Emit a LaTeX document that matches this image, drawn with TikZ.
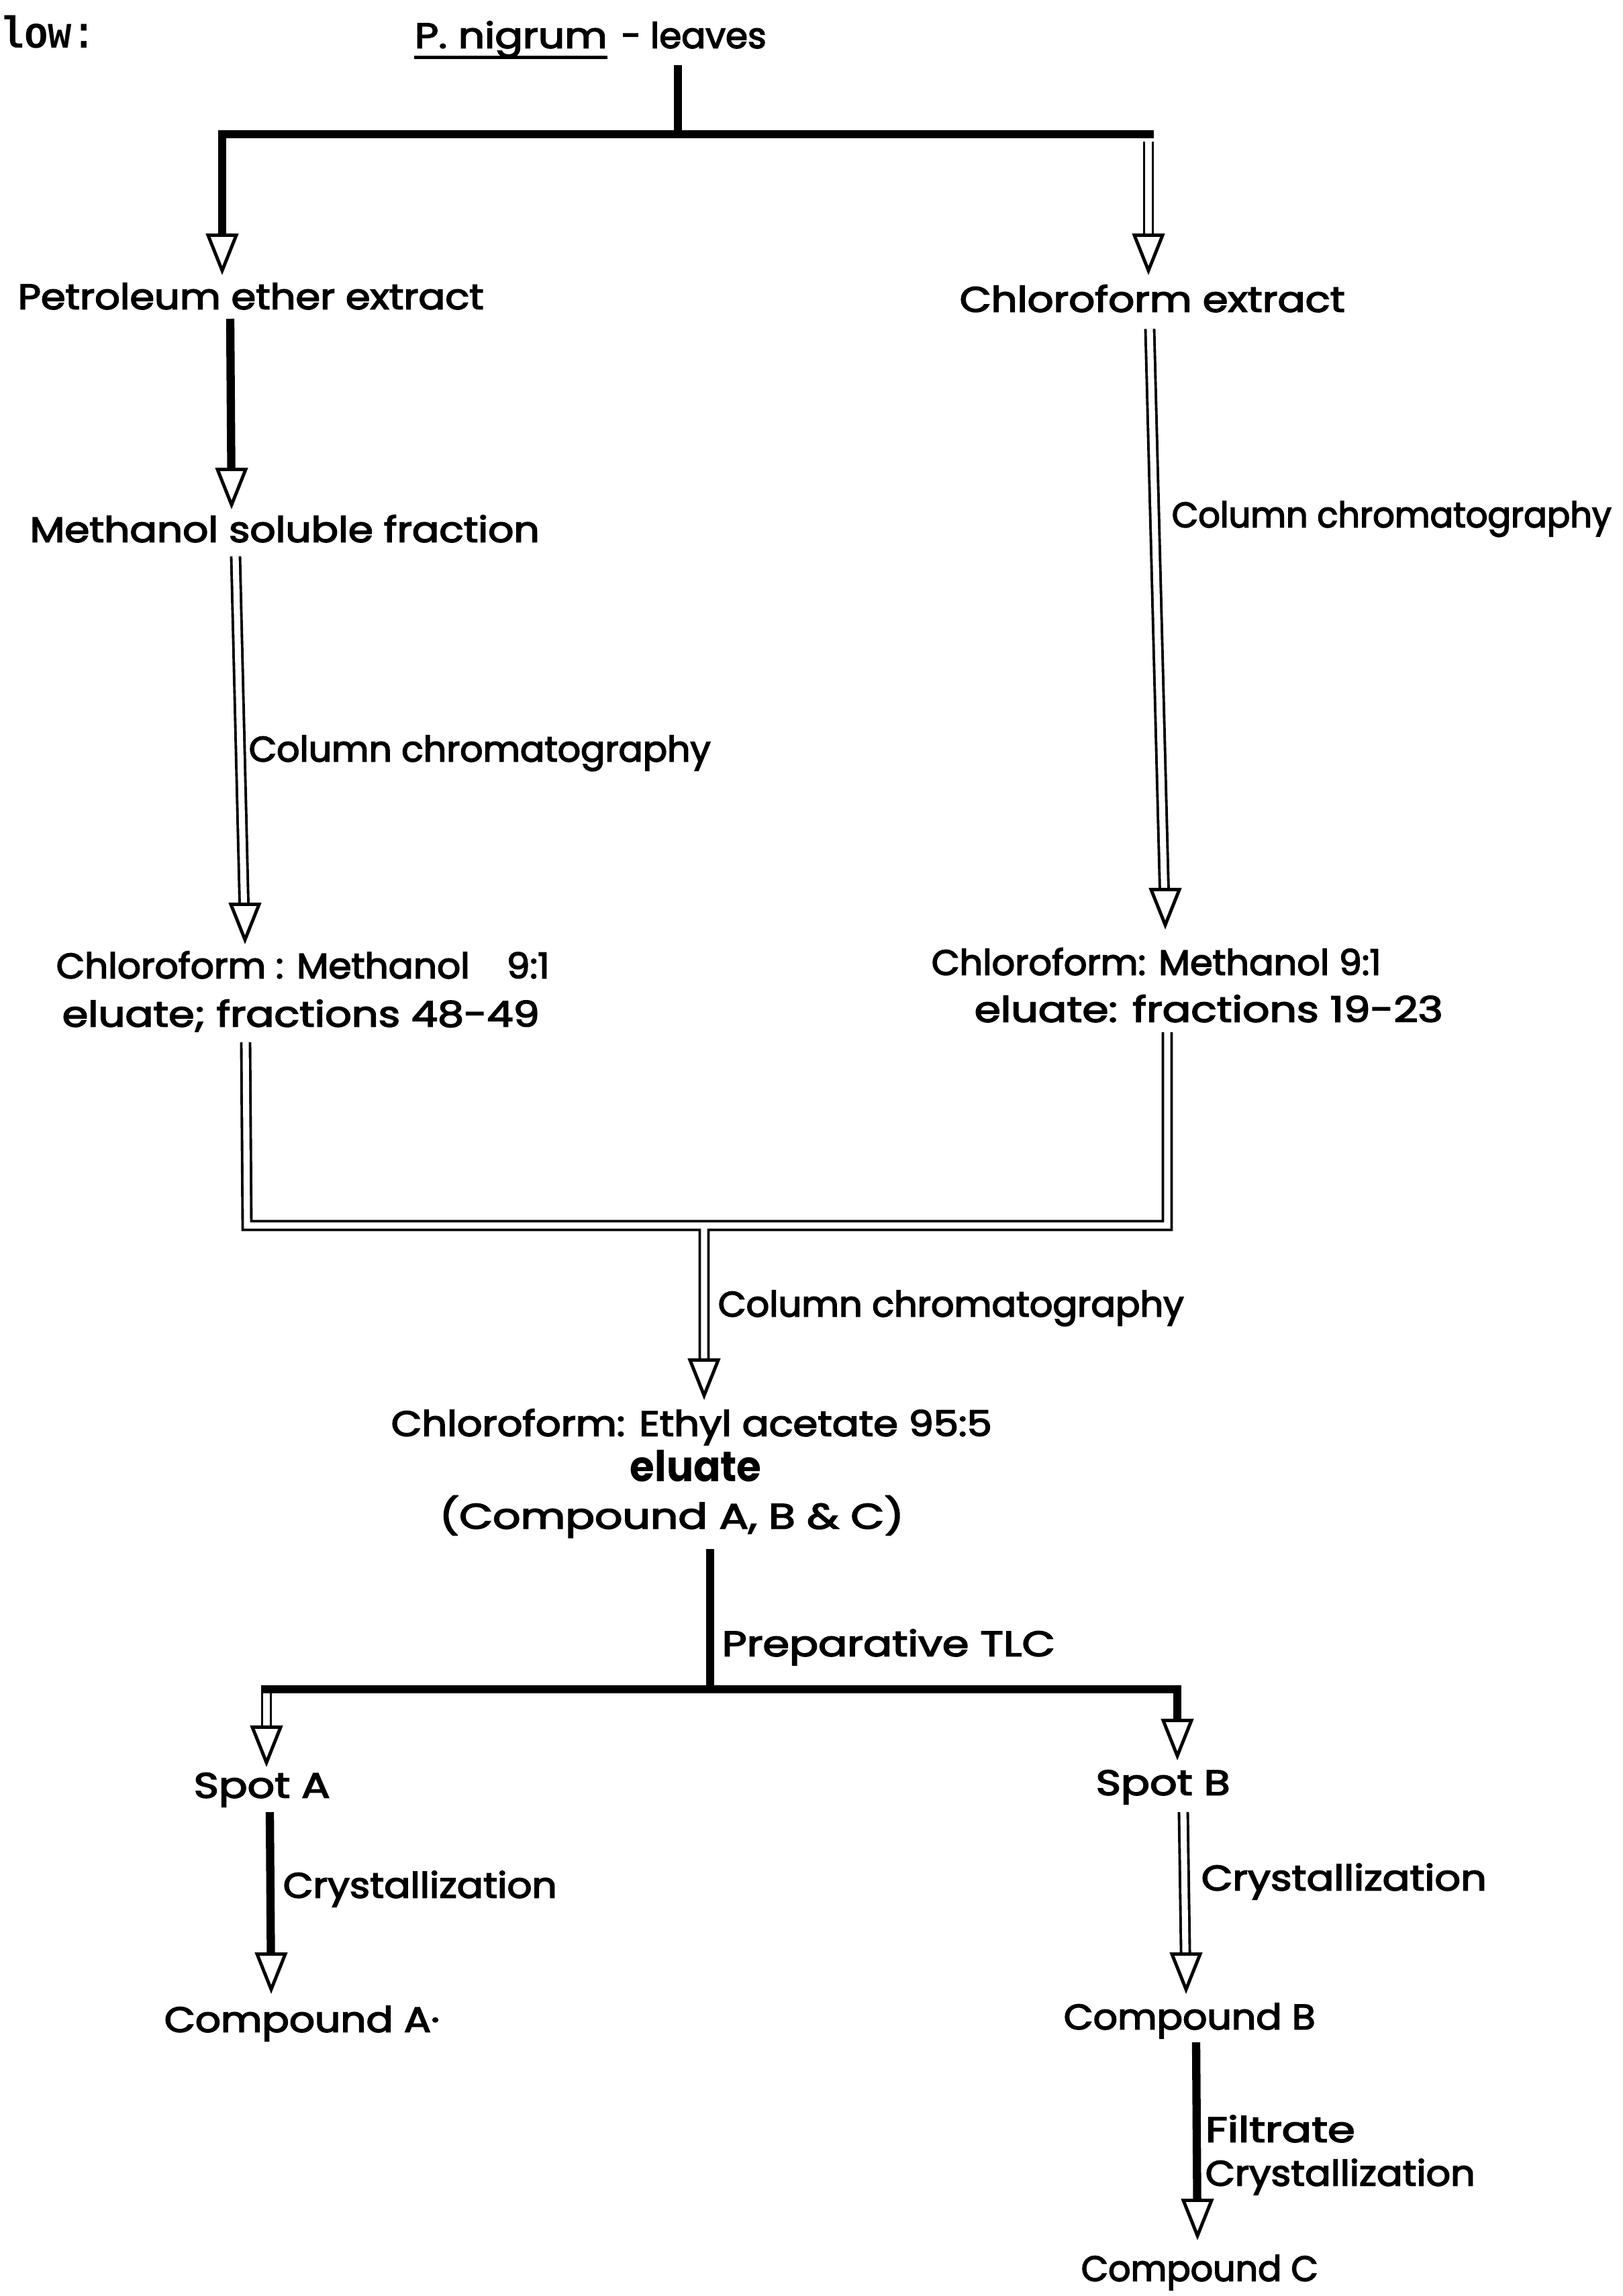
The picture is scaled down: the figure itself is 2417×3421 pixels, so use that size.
\documentclass[tikz,border=0pt]{standalone}
\usepackage{fontspec}
\usepackage{graphicx}
\setmainfont{Poppins}
\newfontfamily\lblfont{Poppins}[FakeBold=3]
\newfontfamily\typefont{Liberation Mono}
\usetikzlibrary{arrows.meta}

% set a label to a given width (in units of 0.01cm), keeping its height
\newcommand\fitto[2]{\resizebox{\dimexpr 0.01cm*#1\relax}{\height}{#2}}
% open arrow head ending at a coordinate
\newcommand\headon[1]{\draw[tiphead] ([yshift=0.62cm]#1) -- (#1);}

\begin{document}
\begin{tikzpicture}[x=0.01cm, y=-0.01cm,
  lbl/.style={anchor=mid west, inner sep=0pt, font=\lblfont\fontsize{15}{18}\selectfont},
  heavy/.style={line width=3.5pt},
  twin/.style={double, line width=1.1pt, double distance=2.6pt},
  totip/.style={shorten >=0.58cm},
  tiphead/.style={-{Triangle[fill=white, length=0.62cm, width=0.48cm, line width=1.4pt]}, line width=1.4pt}]

\useasboundingbox[fill=white] (0,0) rectangle (2417,3421);

% ---------- junctions and arrow tips ----------
\coordinate (jTopS) at (1010,97);
\coordinate (jTop)  at (1010,200);
\coordinate (kL) at (331,200);
\coordinate (kR) at (1711,200);
\coordinate (kRo) at (1719,200);
\coordinate (tPet) at (331,410);
\coordinate (tChx) at (1711,410);

\coordinate (sMsf) at (343,475);
\coordinate (tMsf) at (345,759);
\coordinate (sCml) at (351,829);
\coordinate (tCml) at (365,1407);
\coordinate (sCmr) at (1713,490);
\coordinate (tCmr) at (1736,1385);

\coordinate (mL0) at (366,1553);
\coordinate (mL1) at (368,1826);
\coordinate (mR1) at (1739,1826);
\coordinate (mR0) at (1739,1538);
\coordinate (mC)  at (1049,1826);
\coordinate (tCea) at (1049,2086);

\coordinate (sTlc) at (1058,2308);
\coordinate (jTlc) at (1058,2517);
\coordinate (bL)  at (389,2517);
\coordinate (bR)  at (1760,2517);
\coordinate (dL)  at (397,2511);
\coordinate (tSpa) at (397,2633);
\coordinate (dR)  at (1754,2517);
\coordinate (tSpb) at (1754,2623);

\coordinate (sCpa) at (402,2700);
\coordinate (tCpa) at (404,2971);
\coordinate (sCpb) at (1763,2700);
\coordinate (tCpb) at (1767,2971);
\coordinate (sCpc) at (1782,3043);
\coordinate (tCpc) at (1784,3338);

% ---------- connectors ----------
% leaves: split into the two extracts
\draw[heavy] (jTopS) -- (jTop);
\draw[heavy, totip] (kRo) -- (kL) -- (tPet);
\draw[twin, totip] ([yshift=-3pt]kR) -- (tChx);
\headon{tPet}
\headon{tChx}

% left branch
\draw[heavy, totip] (sMsf) -- (tMsf);
\headon{tMsf}
\draw[twin, totip] (sCml) -- (tCml);
\headon{tCml}

% right branch
\draw[twin, totip] (sCmr) -- (tCmr);
\headon{tCmr}

% pooled eluates
\draw[twin] (mL0) -- (mL1) -- (mR1) -- (mR0)
            (mC) -- ([yshift=0.58cm]tCea);
\headon{tCea}

% preparative TLC
\draw[twin, totip] (dL) -- (tSpa);
\draw[heavy] (sTlc) -- (jTlc);
\draw[heavy] (bL) -- (bR);
\draw[heavy, totip] (dR) -- (tSpb);
\headon{tSpa}
\headon{tSpb}

% crystallizations
\draw[heavy, totip] (sCpa) -- (tCpa);
\headon{tCpa}
\draw[twin, totip] (sCpb) -- (tCpb);
\headon{tCpb}
\draw[heavy, totip] (sCpc) -- (tCpc);
\headon{tCpc}

% ---------- labels ----------
\node[lbl, font=\typefont\fontsize{19}{22}\selectfont\bfseries] (lowtxt) at (0,62) {\fitto{142}{low:}};
\node[lbl] (pn) at (617,62) {\fitto{287}{P. nigrum}};
\node[lbl] (lv) at (925,62) {\fitto{216}{- leaves}};
\draw[line width=1.5pt] ([yshift=-4pt]pn.base west) -- ([yshift=-4pt]pn.base east);

\node[lbl] (pet)  at (26,451)   {\fitto{694}{Petroleum ether extract}};
\node[lbl] (chx)  at (1429,455) {\fitto{574}{Chloroform extract}};
\node[lbl] (msf)  at (44,798)   {\fitto{759}{Methanol soluble fraction}};
\node[lbl] (ccl)  at (370,1125) {\fitto{688}{Column chromatography}};
\node[lbl] (ccr)  at (1745,776) {\fitto{655}{Column chromatography}};
\node[lbl] (cml1) at (83,1448)  {\fitto{735}{Chloroform : Methanol\quad 9:1}};
\node[lbl] (cml2) at (92,1520)  {\fitto{711}{eluate; fractions 48-49}};
\node[lbl] (cmr1) at (1387,1443){\fitto{670}{Chloroform: Methanol 9:1}};
\node[lbl] (cmr2) at (1451,1513){\fitto{698}{eluate: fractions 19-23}};
\node[lbl] (ccc)  at (1069,1952){\fitto{694}{Column chromatography}};
\node[lbl] (cea)  at (582,2130) {\fitto{895}{Chloroform: Ethyl acetate 95:5}};
\node[lbl, font=\fontsize{18}{21}\selectfont\bfseries] (elu) at (938,2198) {\fitto{196}{eluate}};
\node[lbl] (cabc) at (654,2268) {\fitto{692}{(Compound A, B \& C)}};
\node[lbl] (ptlc) at (1075,2458){\fitto{496}{Preparative TLC}};
\node[lbl] (spa)  at (288,2669) {\fitto{203}{Spot A}};
\node[lbl] (spb)  at (1632,2665){\fitto{200}{Spot B}};
\node[lbl] (crl)  at (421,2818) {\fitto{408}{Crystallization}};
\node[lbl] (crr)  at (1789,2807){\fitto{425}{Crystallization}};
\node[lbl] (cpa)  at (244,3018) {\fitto{410}{Compound A·}};
\node[lbl] (cpb)  at (1584,3014){\fitto{375}{Compound B}};
\node[lbl] (fil)  at (1795,3182){\fitto{223}{Filtrate}};
\node[lbl] (cr2)  at (1795,3247){\fitto{402}{Crystallization}};
\node[lbl] (cpc)  at (1610,3389){\fitto{353}{Compound C}};

\end{tikzpicture}
\end{document}
